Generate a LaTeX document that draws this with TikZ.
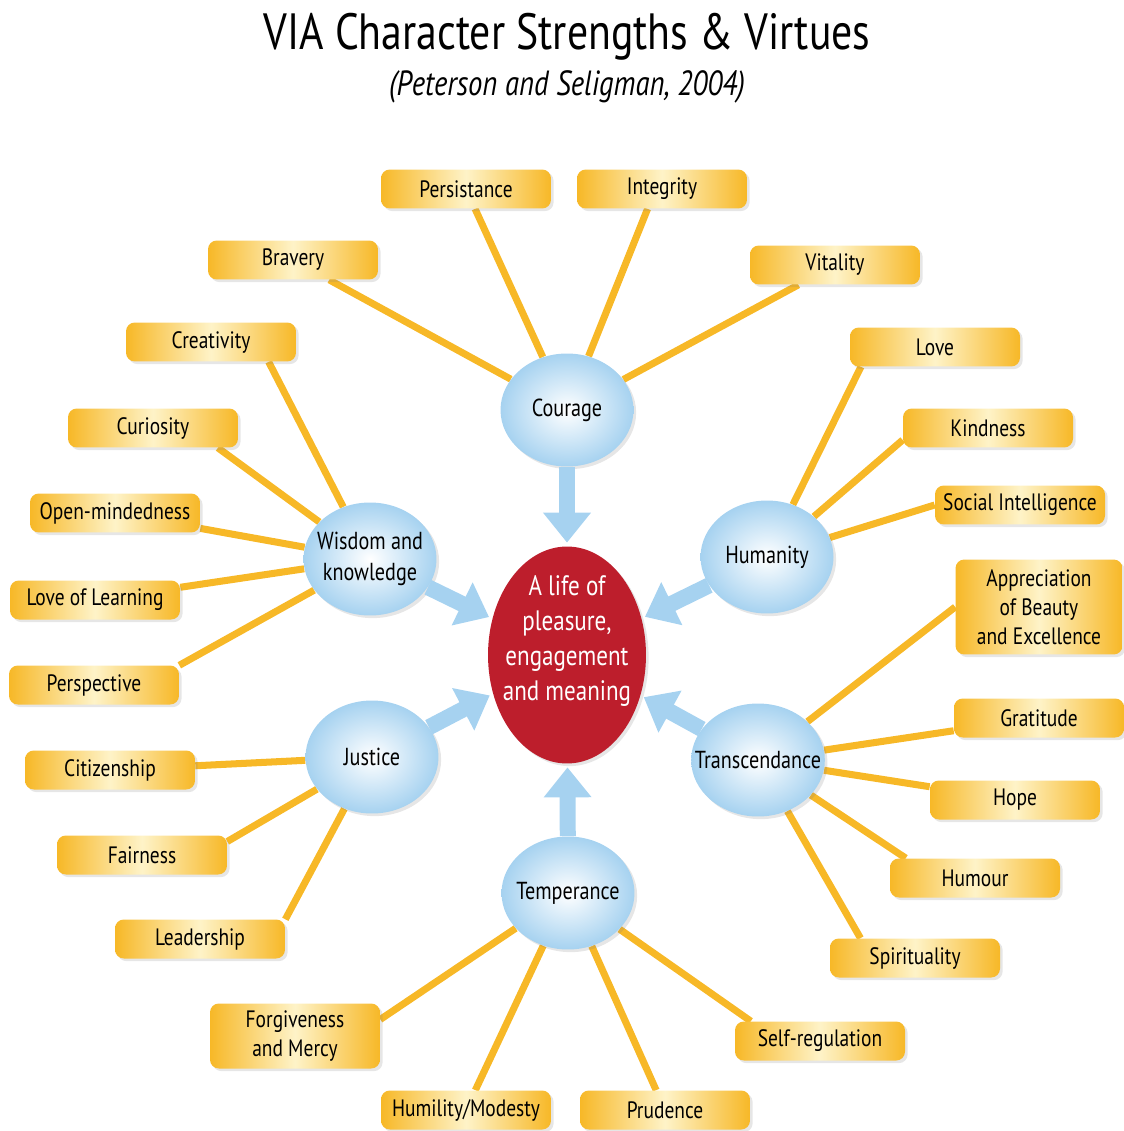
\documentclass[tikz,border=0pt]{standalone}
\usepackage{fontspec}
\setmainfont{PT Sans}[FakeStretch=0.82]
\usepackage{tikz}
\usetikzlibrary{arrows.meta,backgrounds,shadows,shapes.geometric}

\definecolor{viagold}{HTML}{F7B827}
\definecolor{viapale}{HTML}{FEF3C8}
\definecolor{viablue}{HTML}{A6D2F0}
\definecolor{viared}{HTML}{BD1E2C}

\begin{document}
\begin{tikzpicture}[x=0.02cm,y=-0.02cm,
  strength/.style={rectangle,rounded corners=5pt,minimum width=3.4cm,minimum height=0.78cm,
    inner sep=1pt,align=center,left color=viagold,right color=viagold,middle color=viapale,
    font=\fontsize{13.5}{16.5}\selectfont,
    drop shadow={opacity=0.2,shadow xshift=1.5pt,shadow yshift=-1.5pt}},
  virtue/.style={ellipse,minimum width=2.66cm,minimum height=2.26cm,inner xsep=-9pt,inner ysep=0pt,
    align=center,shading=radial,inner color=white,outer color=viablue,
    font=\fontsize{14}{18}\selectfont,
    drop shadow={opacity=0.2,shadow xshift=1.5pt,shadow yshift=-1.5pt}},
  link/.style={draw=viagold,line width=4pt},
  feed/.style={color=viablue,line width=0.32cm,shorten >=2pt,-{Triangle[width=0.92cm,length=0.6cm]}}]

  \useasboundingbox (0,0) rectangle (1124,1131);

  % heading
  \node (title) at (567,37) {\fontsize{29}{33}\selectfont VIA Character Strengths \& Virtues};
  \node (cite)  at (567,87) {\fontsize{19.9}{23}\selectfont\itshape (Peterson and Seligman, 2004)};

  % centre
  \node[ellipse,fill=viared,minimum width=3.16cm,minimum height=4.34cm,inner sep=0pt,
        drop shadow={opacity=0.2,shadow xshift=1.5pt,shadow yshift=-1.5pt}]
        (life) at (567,655) {};
  \node[text=white,align=center,font=\fontsize{16}{19.8}\selectfont]
        (lifetext) at (567,641) {A life of\\pleasure,\\engagement\\and meaning};

  % virtues
  \node[virtue] (courage)       at (567,410) {Courage};
  \node[virtue] (wisdom)        at (370,559) {Wisdom and\\knowledge};
  \node[virtue] (humanity)      at (767,557) {Humanity};
  \node[virtue] (justice)       at (372,757) {Justice};
  \node[virtue] (transcendance) at (758,760) {Transcendance};
  \node[virtue] (temperance)    at (568,893) {Temperance};

  % strengths
  \node[strength] (persistance)  at (466,189)  {Persistance};
  \node[strength] (integrity)    at (662,189)  {Integrity};
  \node[strength] (bravery)      at (293,260)  {Bravery};
  \node[strength] (vitality)     at (835,265)  {Vitality};
  \node[strength] (creativity)   at (211,342)  {Creativity};
  \node[strength] (love)         at (935,347)  {Love};
  \node[strength] (curiosity)    at (153,428)  {Curiosity};
  \node[strength] (kindness)     at (988,428)  {Kindness};
  \node[strength] (openmind)     at (115,513)  {Open-mindedness};
  \node[strength] (socialint)    at (1020,505) {Social Intelligence};
  \node[strength] (learning)     at (95,600)   {Love of Learning};
  \node[strength,minimum width=3.34cm,minimum height=1.9cm]
                  (beauty)       at (1039,607) {Appreciation\\of Beauty\\and Excellence};
  \node[strength] (perspective)  at (94,685)   {Perspective};
  \node[strength] (gratitude)    at (1039,718) {Gratitude};
  \node[strength] (citizenship)  at (110,770)  {Citizenship};
  \node[strength] (hope)         at (1015,800) {Hope};
  \node[strength] (fairness)     at (142,855)  {Fairness};
  \node[strength] (humour)       at (975,878)  {Humour};
  \node[strength] (leadership)   at (200,939)  {Leadership};
  \node[strength] (spirituality) at (915,958)  {Spirituality};
  \node[strength,minimum height=1.3cm]
                  (forgiveness)  at (295,1036) {Forgiveness\\and Mercy};
  \node[strength] (selfreg)      at (820,1041) {Self-regulation};
  \node[strength] (humility)     at (466,1110) {Humility/Modesty};
  \node[strength] (prudence)     at (665,1110) {Prudence};

  % spokes
  \begin{scope}[on background layer]
    \path[link] (persistance) edge (courage)
                (integrity.-126) edge (courage)
                (bravery) edge (courage)
                (vitality) edge (courage)
                (creativity.-19) edge (wisdom)
                (curiosity.-17) edge (wisdom)
                (openmind) edge (wisdom)
                (learning) edge (wisdom)
                (perspective.13) edge (wisdom)
                (love.-165) edge (humanity)
                (kindness.-172) edge (humanity)
                (socialint.west) edge (humanity)
                (citizenship) edge (justice)
                (fairness.9) edge (justice)
                (leadership.13) edge (justice)
                (beauty.west) edge (transcendance)
                (gratitude) edge (transcendance)
                (hope) edge (transcendance)
                (humour.164) edge (transcendance)
                (spirituality.160) edge (transcendance)
                (forgiveness.11) edge (temperance)
                (humility) edge (temperance)
                (prudence) edge (temperance)
                (selfreg.164) edge (temperance);
  \end{scope}

  % arrows into the centre
  \draw[feed] (courage) -- (life);
  \draw[feed] (wisdom) -- (life);
  \draw[feed] (humanity) -- (life);
  \draw[feed] (justice) -- (life);
  \draw[feed] (transcendance) -- (life);
  \draw[feed] (temperance) -- (life);
\end{tikzpicture}
\end{document}
